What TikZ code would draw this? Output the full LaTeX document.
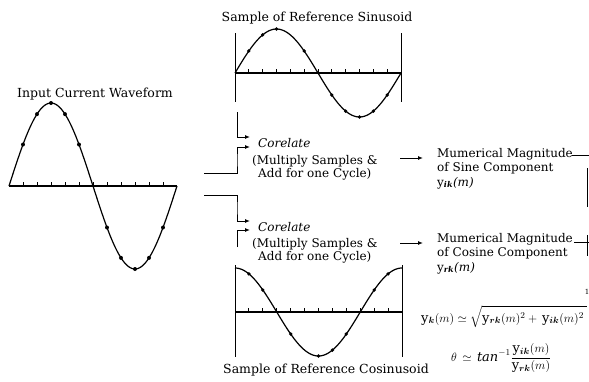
\documentclass[tikz,border=0pt]{standalone}
\usepackage{fontspec}
\usepackage{amsmath,bm}
\setmainfont{DejaVu Serif}
\usetikzlibrary{arrows.meta}
\begin{document}
\begin{tikzpicture}[x=1pt,y=-1pt,
  wave/.style={line width=1.2pt},
  axisline/.style={line width=2pt},
  tickmark/.style={line width=1pt},
  conn/.style={line width=1pt},
  arr/.style={conn,-{Latex[length=5pt,width=4pt]}},
  title/.style={font=\fontsize{12.5}{14}\selectfont, inner sep=0pt, anchor=base},
  txt/.style={font=\fontsize{12}{13}\selectfont, inner sep=0pt, anchor=base west},
  itxt/.style={txt, font=\fontsize{12}{13}\selectfont\itshape},
  frm/.style={font=\fontsize{13}{15}\selectfont, inner sep=0pt, anchor=base west}]
\clip (0,0) rectangle (589,381);
\fill[white] (0,0) rectangle (589,381);

% ---------- Input current waveform ----------
\node[title] (tin) at (95,97) {Input Current Waveform};
\draw[axisline] (9,186) -- (177,186);
\foreach \i in {1,...,11} \draw[tickmark] ({9+\i*14},186) -- ++(0,-4);
\draw[wave] plot[domain=0:360,samples=91,smooth] ({9+\x/360*168},{186-83*sin(\x)});
\foreach \a in {30,60,90,120,150,210,240,270,300,330}
  \fill ({9+\a/360*168},{186-83*sin(\a)}) circle (2pt);

% ---------- Reference sinusoid ----------
\node[title] (tsin) at (317,21) {Sample of Reference Sinusoid};
\draw[conn] (235,33) -- (235,102);
\draw[conn] (401,33) -- (401,102);
\draw[axisline] (235,73) -- (401,73);
\foreach \i in {1,...,11} \draw[tickmark] ({235+\i*166/12},73) -- ++(0,-4);
\draw[wave] plot[domain=0:360,samples=91,smooth] ({235+\x/360*166},{73-44*sin(\x)});
\foreach \a in {30,60,90,150,210,240,270,300,330}
  \fill ({235+\a/360*166},{73-44*sin(\a)}) circle (1.9pt);

% ---------- Reference cosinusoid ----------
\node[title] (tcos) at (326,373) {Sample of Reference Cosinusoid};
\draw[conn] (235,265) -- (235,357);
\draw[conn] (402,265) -- (402,357);
\draw[axisline] (235,312) -- (402,312);
\foreach \i in {1,...,11} \draw[tickmark] ({235+\i*167/12},312) -- ++(0,-4);
\draw[wave] plot[domain=0:360,samples=91,smooth] ({235+\x/360*167},{312-44*cos(\x)});
\foreach \a in {30,60,120,180,210,240,300,330}
  \fill ({235+\a/360*167},{312-44*cos(\a)}) circle (1.9pt);

% ---------- Correlation blocks ----------
\node[itxt] (cor1) at (258,147) {Corelate};
\node[txt] (mul1) at (252,164) {(Multiply Samples \&};
\node[txt] (add1) at (258,177) {Add for one Cycle)};
\node[itxt] (cor2) at (258,231) {Corelate};
\node[txt] (mul2) at (252,247) {(Multiply Samples \&};
\node[txt] (add2) at (258,260) {Add for one Cycle)};

% ---------- Magnitude blocks ----------
\node[txt] (mag1) at (437,157) {Mumerical Magnitude};
\node[txt] (sin1) at (437,171) {of Sine Component};
\node[txt] (yik) at (437,186) {y$_{\bm{\mathit{ik}}}$\textit{(m)}};
\node[txt] (mag2) at (437,242) {Mumerical Magnitude};
\node[txt] (cos2) at (437,256) {of Cosine Component};
\node[txt] (yrk) at (437,271) {y$_{\bm{\mathit{rk}}}$\textit{(m)}};

% ---------- Connectors ----------
\coordinate (s1) at (237,112);
\coordinate (s1e) at (250,137);
\draw[arr] (s1) |- (s1e);
\coordinate (i1) at (204,173);
\coordinate (i1e) at (250,147);
\draw[arr] (i1) -| (237,160) |- (i1e);
\coordinate (i2) at (204,195);
\coordinate (i2e) at (250,221);
\draw[arr] (i2) -| (237,208) |- (i2e);
\coordinate (c2) at (237,247);
\coordinate (c2e) at (250,230);
\draw[arr] (c2) |- (c2e);

\coordinate (m1) at (400,158);
\coordinate (m1e) at (423,158);
\draw[arr] (m1) -- (m1e);
\coordinate (m2) at (400,243);
\coordinate (m2e) at (423,243);
\draw[arr] (m2) -- (m2e);

\coordinate (r1) at (572,155);
\coordinate (r1e) at (590,155);
\draw[conn] (r1) -- (r1e);
\coordinate (v1a) at (587,168);
\coordinate (v1b) at (587,207);
\draw[conn] (v1a) -- (v1b);
\coordinate (r2) at (574,242);
\coordinate (r2e) at (590,242);
\draw[conn] (r2) -- (r2e);
\coordinate (v2a) at (587,235);
\coordinate (v2b) at (587,256);
\draw[conn] (v2a) -- (v2b);

% ---------- Formulas ----------
\node[frm] (fk) at (421,322)
  {$\mathrm{y}_{\bm{k}}(m) \simeq \sqrt{\rule{0pt}{13pt}\mathrm{y}_{\bm{rk}}(m)^{2} + \,\mathrm{y}_{\bm{ik}}(m)^{2}\;}$};
\node[font=\fontsize{7}{7}\selectfont, inner sep=0pt] (one) at (587,292) {1};
\node[frm] (fth) at (451,361)
  {$\theta \,\simeq\, \mathit{tan}^{-1}\dfrac{\mathrm{y}_{\bm{ik}}(m)}{\mathrm{y}_{\bm{rk}}(m)}$};
\end{tikzpicture}
\end{document}
